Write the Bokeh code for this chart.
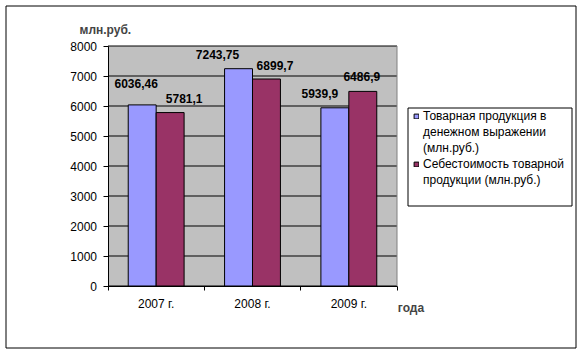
from bokeh.plotting import figure
from bokeh.models import (Range1d, FixedTicker, Legend, LegendItem,
                          Label, BoxAnnotation, ColumnDataSource)
from bokeh.embed import file_html
from bokeh.resources import INLINE
from bokeh.core.properties import value

# ---- data ----
years = ["2007 г.", "2008 г.", "2009 г."]
product_value = [6036.46, 7243.75, 5939.9]
product_cost = [5781.1, 6899.7, 6486.9]
# legend texts, one list of wrapped lines per series
series_lines = [["Товарная продукция в", "денежном выражении", "(млн.руб.)"],
                ["Себестоимость товарной", "продукции (млн.руб.)"]]
y_ticks = [0, 1000, 2000, 3000, 4000, 5000, 6000, 7000, 8000]
y_label = "млн.руб."
x_label = "года"

# ---- layout / style constants ----
W, H = 581, 353
PLOT_L, PLOT_R, PLOT_T, PLOT_B = 107.5, 396.5, 45.5, 285.5   # plot area in pixels
Y_MAX = 8000
FONT = "Liberation Sans"
BLUE = "#9999FF"
RED = "#993366"
BAR_W = 0.29
DODGE = 0.145
# manual label nudges in pixels (dx, dy above bar top), as in the original chart
nudge_blue = [(-6, 21), (-21, 14.5), (-15, 14.5)]
nudge_red = [(14, 14), (8.5, 14), (-1, 14.5)]

n = len(years)
sx = (PLOT_R - PLOT_L) / n          # pixels per category
sy = (PLOT_B - PLOT_T) / Y_MAX      # pixels per unit


def px_x(px):
    return (px - PLOT_L) / sx


def px_y(py):
    return (PLOT_B - py) / sy


def fmt(v):
    return str(v).replace(".", ",")


centers = [i + 0.5 for i in range(n)]

p = figure(width=W, height=H, output_backend="svg", toolbar_location=None,
           x_range=Range1d(px_x(0), px_x(W)), y_range=Range1d(px_y(H), px_y(0)),
           min_border=0, background_fill_color="white", border_fill_color="white")
p.title.visible = False
p.outline_line_color = None
p.xgrid.visible = False
p.ygrid.visible = False

# plot area
p.add_layout(BoxAnnotation(left=0, right=n, bottom=0, top=Y_MAX, fill_color="#C0C0C0",
                           fill_alpha=1, line_color=None, level="underlay"))
# horizontal grid lines
p.segment(x0=[0] * len(y_ticks), x1=[n] * len(y_ticks), y0=y_ticks, y1=y_ticks,
          line_color="black", line_width=1)
# right edge of plot area
p.segment(x0=[n], x1=[n], y0=[0], y1=[Y_MAX], line_color="#808080", line_width=1)

src_b = ColumnDataSource(dict(x=[c - DODGE for c in centers], top=product_value,
                              lab=[fmt(v) for v in product_value],
                              dx=[d[0] for d in nudge_blue], dy=[-d[1] for d in nudge_blue]))
src_r = ColumnDataSource(dict(x=[c + DODGE for c in centers], top=product_cost,
                              lab=[fmt(v) for v in product_cost],
                              dx=[d[0] for d in nudge_red], dy=[-d[1] for d in nudge_red]))

rb = p.vbar(x="x", top="top", width=BAR_W, source=src_b, fill_color=BLUE,
            line_color="black", line_width=1)
rr = p.vbar(x="x", top="top", width=BAR_W, source=src_r, fill_color=RED,
            line_color="black", line_width=1)
# empty, invisible renderer used for the wrapped continuation lines of the legend
r_wrap = p.vbar(x=[], top=[], width=BAR_W, fill_color=None, line_color=None,
                fill_alpha=0, line_alpha=0)

for s in (src_b, src_r):
    p.text(x="x", y="top", text="lab", x_offset="dx", y_offset="dy", source=s,
           text_align="center", text_baseline="middle", text_font=value(FONT),
           text_font_size="12px", text_font_style="bold", text_color="black")

# y axis
ya = p.yaxis[0]
ya.fixed_location = 0
ya.bounds = (0, Y_MAX)
ya.ticker = FixedTicker(ticks=y_ticks)
ya.axis_line_color = "black"
ya.major_tick_line_color = "black"
ya.major_tick_out = 5
ya.major_tick_in = 0
ya.minor_tick_line_color = None
ya.major_label_standoff = 6
ya.major_label_text_font = FONT
ya.major_label_text_font_size = "12px"
ya.major_label_text_color = "black"

# x axis
xa = p.xaxis[0]
xa.fixed_location = 0
xa.bounds = (0, n)
xa.ticker = FixedTicker(ticks=centers, minor_ticks=list(range(n + 1)))
xa.major_label_overrides = {c: y for c, y in zip(centers, years)}
xa.axis_line_color = "black"
xa.major_tick_line_color = None
xa.major_tick_out = 0
xa.major_tick_in = 0
xa.minor_tick_line_color = "black"
xa.minor_tick_out = 4
xa.minor_tick_in = 0
xa.major_label_standoff = 7
xa.major_label_text_font = FONT
xa.major_label_text_font_size = "12px"
xa.major_label_text_color = "black"

# axis titles
p.add_layout(Label(x=px_x(79), y=px_y(29.3), text=y_label, text_font=FONT, text_font_size="12px",
                   text_font_style="bold", text_align="left", text_baseline="middle"))
p.add_layout(Label(x=px_x(397.3), y=px_y(307.7), text=x_label, text_font=FONT,
                   text_font_size="12px", text_font_style="bold", text_align="left",
                   text_baseline="middle"))

# legend frame
p.add_layout(BoxAnnotation(left=px_x(407.5), right=px_x(571.5), top=px_y(107.5),
                           bottom=px_y(205.5), fill_color="white", fill_alpha=1,
                           line_color="black", line_alpha=1, line_width=1))

# legend
items = []
for lines, r in zip(series_lines, (rb, rr)):
    items.append(LegendItem(label=lines[0], renderers=[r]))
    for extra in lines[1:]:
        items.append(LegendItem(label=extra, renderers=[r_wrap]))

legend = Legend(items=items, location=(413, H - 187), padding=0, spacing=1, margin=0,
                glyph_width=6, glyph_height=6, label_standoff=4, label_height=15,
                label_text_font=FONT, label_text_font_size="12px",
                label_text_color="black",
                border_line_color=None, background_fill_alpha=0)
p.add_layout(legend)

# outer chart border
p.add_layout(BoxAnnotation(left=px_x(5.5), right=px_x(575.5), top=px_y(5.5),
                           bottom=px_y(347.5), fill_alpha=0, line_color="black",
                           line_alpha=1, line_width=1))

open("out.html", "w").write(file_html(p, INLINE))
